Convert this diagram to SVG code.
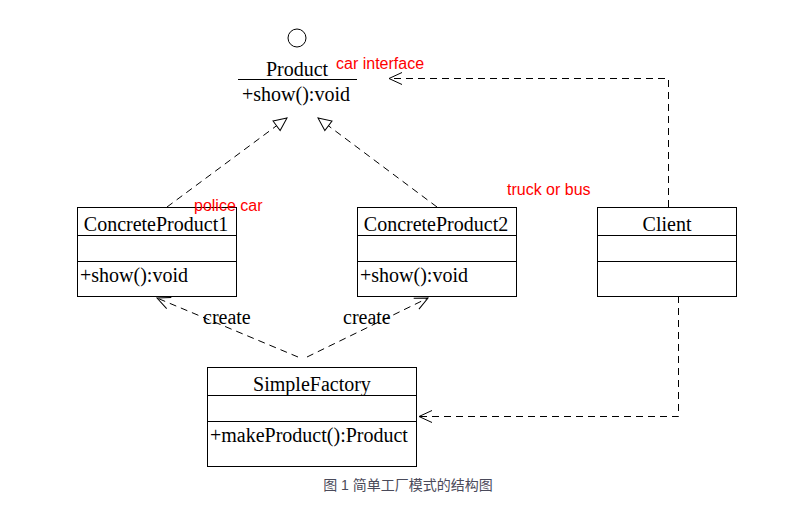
<svg xmlns="http://www.w3.org/2000/svg" width="797" height="508" viewBox="0 0 797 508">
<style>
.box{fill:#fff;stroke:#000;stroke-width:1}
.ln{stroke:#000;stroke-width:1}
.t{font-family:"Liberation Serif",serif;font-size:20px;fill:#000}
.r{font-family:"Liberation Sans","Noto Sans",sans-serif;font-size:16px;fill:#f00}
.d{fill:none;stroke:#000;stroke-width:1;stroke-dasharray:7,5}
.cap{font-family:"Liberation Sans","Noto Sans CJK SC",sans-serif;font-size:14px;fill:#4a4a5a}
</style>
<defs>
<marker id="tri" markerWidth="16" markerHeight="14" refX="14" refY="7" orient="auto" markerUnits="userSpaceOnUse">
<path d="M1,1 L14,7 L1,13 Z" fill="#fff" stroke="#000" stroke-width="1"/>
</marker>
<marker id="open" markerWidth="16" markerHeight="14" refX="14" refY="7" orient="auto" markerUnits="userSpaceOnUse">
<path d="M1,1 L14,7 L1,13" fill="none" stroke="#000" stroke-width="1"/>
</marker>
</defs>
<rect width="797" height="508" fill="#fff"/>
<g id="connectors">
<path class="d" d="M167,207 L287,118" marker-end="url(#tri)"/>
<path class="d" d="M437,207 L318,118" marker-end="url(#tri)"/>
<path class="d" d="M668.5,207 L668.5,78.5 L389,78.5" marker-end="url(#open)"/>
<path class="d" d="M678.5,296 L678.5,416.5 L419,416.5" marker-end="url(#open)"/>
<path class="d" d="M298,357 L157,298" marker-end="url(#open)"/>
<path class="d" d="M307,357 L428,298" marker-end="url(#open)"/>
<text class="t" x="203" y="324">create</text>
<text class="t" x="343" y="324">create</text>
</g>
<g id="product">
<circle cx="297" cy="38" r="9" fill="#fff" stroke="#000"/>
<text class="t" x="297" y="76" text-anchor="middle">Product</text>
<line class="ln" x1="238" y1="79.5" x2="357" y2="79.5"/>
<text class="t" x="242" y="101">+show():void</text>
</g>
<g id="concreteProduct1">
<rect class="box" x="77.5" y="207.5" width="159" height="89"/>
<line class="ln" x1="77.5" y1="235.5" x2="236.5" y2="235.5"/>
<line class="ln" x1="77.5" y1="261.5" x2="236.5" y2="261.5"/>
<text class="t" x="156" y="231" text-anchor="middle">ConcreteProduct1</text>
<text class="t" x="80" y="282">+show():void</text>
</g>
<g id="concreteProduct2">
<rect class="box" x="357.5" y="207.5" width="159" height="89"/>
<line class="ln" x1="357.5" y1="235.5" x2="516.5" y2="235.5"/>
<line class="ln" x1="357.5" y1="261.5" x2="516.5" y2="261.5"/>
<text class="t" x="436" y="231" text-anchor="middle">ConcreteProduct2</text>
<text class="t" x="360" y="282">+show():void</text>
</g>
<g id="client">
<rect class="box" x="597.5" y="207.5" width="139" height="89"/>
<line class="ln" x1="597.5" y1="235.5" x2="736.5" y2="235.5"/>
<line class="ln" x1="597.5" y1="261.5" x2="736.5" y2="261.5"/>
<text class="t" x="667" y="231" text-anchor="middle">Client</text>
</g>
<g id="simpleFactory">
<rect class="box" x="207.5" y="367.5" width="209" height="99"/>
<line class="ln" x1="207.5" y1="395.5" x2="416.5" y2="395.5"/>
<line class="ln" x1="207.5" y1="421.5" x2="416.5" y2="421.5"/>
<text class="t" x="312" y="391" text-anchor="middle">SimpleFactory</text>
<text class="t" x="210" y="442">+makeProduct():Product</text>
</g>
<g id="notes">
<text class="r" x="336" y="69">car interface</text>
<text class="r" x="194" y="211">police car</text>
<text class="r" x="507" y="195">truck or bus</text>
</g>
<text class="cap" x="408" y="490" text-anchor="middle">图 1 简单工厂模式的结构图</text>
</svg>
